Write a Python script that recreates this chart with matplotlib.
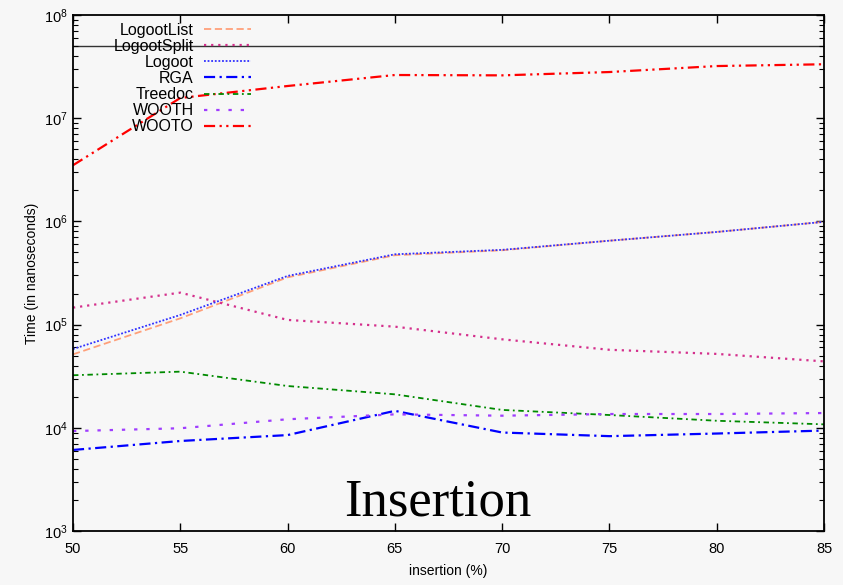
import numpy as np
import matplotlib.pyplot as plt

plt.rcParams['font.family'] = ['Liberation Sans', 'DejaVu Sans']
plt.rcParams['mathtext.fontset'] = 'custom'
plt.rcParams['mathtext.rm'] = 'Liberation Sans'

# insertion percentage (x axis)
insertion = [50, 55, 60, 65, 70, 75, 80, 85]

# time in nanoseconds
logoot_list = [5.15e4, 1.15e5, 2.87e5, 4.7e5, 5.25e5, 6.5e5, 7.9e5, 9.9e5]
logoot_split = [1.46e5, 2.04e5, 1.11e5, 9.55e4, 7.2e4, 5.7e4, 5.2e4, 4.4e4]
logoot = [5.8e4, 1.24e5, 2.96e5, 4.8e5, 5.3e5, 6.5e5, 7.9e5, 9.9e5]
rga = [6.1e3, 7.45e3, 8.5e3, 1.46e4, 9.0e3, 8.3e3, 8.8e3, 9.4e3]
treedoc = [3.23e4, 3.5e4, 2.54e4, 2.11e4, 1.49e4, 1.33e4, 1.17e4, 1.08e4]
wooth = [9.3e3, 9.9e3, 1.21e4, 1.35e4, 1.31e4, 1.36e4, 1.36e4, 1.39e4]
wooto = [3.5e6, 1.57e7, 2.05e7, 2.62e7, 2.6e7, 2.8e7, 3.2e7, 3.33e7]

limit = 5e7  # horizontal reference line

bg = '#f7f7f7'
fig = plt.figure(figsize=(8.43, 5.85), dpi=100, facecolor=bg)
ax = fig.add_axes([0.0866, 0.0923, 0.8909, 0.8821], facecolor=bg)

ax.axhline(limit, color='#333333', linewidth=1.0, zorder=1)

lw = 1.3
ax.plot(insertion, logoot_list, color='#ffa07a', linestyle=(0, (4, 2)), linewidth=lw, label='LogootList')
ax.plot(insertion, logoot_split, color='#d42f8c', linestyle=(0, (1, 2.2)), linewidth=lw + 0.3, label='LogootSplit')
ax.plot(insertion, logoot, color='#3030ff', linestyle=(0, (1, 1)), linewidth=lw, label='Logoot')
ax.plot(insertion, rga, color='#0000ff', linestyle=(0, (5, 2, 1, 2)), linewidth=lw + 0.3, label='RGA')
ax.plot(insertion, treedoc, color='#008a00', linestyle=(0, (3, 2, 1, 2)), linewidth=lw, label='Treedoc')
ax.plot(insertion, wooth, color='#9f3dff', linestyle=(0, (1.5, 4)), linewidth=lw + 0.3, label='WOOTH')
ax.plot(insertion, wooto, color='#ff0000', linestyle=(0, (5, 2, 1, 2, 1, 2)), linewidth=lw + 0.3, label='WOOTO')

ax.set_yscale('log')
ax.set_xlim(50, 85)
ax.set_ylim(1e3, 1e8)
ax.set_xticks(insertion)

ax.tick_params(which='both', direction='in', top=True, right=True, labelsize=10.5)
ax.tick_params(which='major', length=6, width=1)
ax.tick_params(which='minor', length=3.5, width=0.8)
ax.tick_params(axis='x', pad=8)
for s in ax.spines.values():
    s.set_linewidth(1.3)

ax.set_xlabel('insertion (%)', fontsize=10, labelpad=6)
ax.set_ylabel('Time (in nanoseconds)', fontsize=10, labelpad=4)

leg = ax.legend(loc='upper right', bbox_to_anchor=(0.237, 0.985), frameon=False,
                markerfirst=False, fontsize=11.5, handlelength=2.95, handletextpad=0.63,
                labelspacing=0.07, borderpad=0, borderaxespad=0)

ax.text(0.485, 0.031, 'Insertion', transform=ax.transAxes, ha='center', va='baseline',
        fontsize=38, family='Liberation Serif')

fig.savefig('out.png', dpi=100, facecolor=bg)
